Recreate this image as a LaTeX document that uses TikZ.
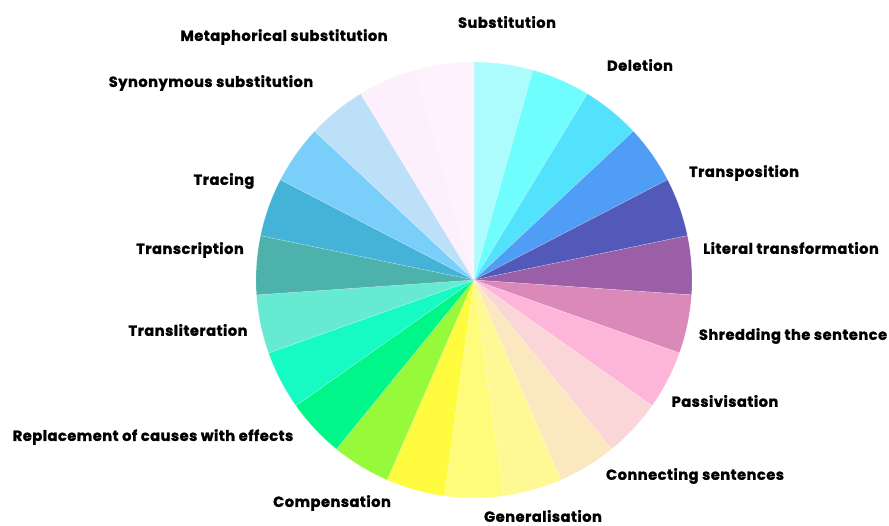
\documentclass[tikz,border=0pt]{standalone}
\usepackage{fontspec}
\newfontfamily\labfont{Poppins}[LetterSpace=3.5, BoldFeatures={FakeBold=1.5}]
\definecolor{s0}{HTML}{ADFCFD}
\definecolor{s1}{HTML}{70FDFE}
\definecolor{s2}{HTML}{52E2FB}
\definecolor{s3}{HTML}{509DF5}
\definecolor{s4}{HTML}{5359B8}
\definecolor{s5}{HTML}{9B5FA7}
\definecolor{s6}{HTML}{DA89B9}
\definecolor{s7}{HTML}{FDB5DA}
\definecolor{s8}{HTML}{FAD6D8}
\definecolor{s9}{HTML}{FCE8BF}
\definecolor{s10}{HTML}{FEF995}
\definecolor{s11}{HTML}{FFFC7C}
\definecolor{s12}{HTML}{FFFC40}
\definecolor{s13}{HTML}{96F93A}
\definecolor{s14}{HTML}{00F688}
\definecolor{s15}{HTML}{16FBC3}
\definecolor{s16}{HTML}{66EBD2}
\definecolor{s17}{HTML}{4DB2AB}
\definecolor{s18}{HTML}{45B2D8}
\definecolor{s19}{HTML}{7ACFFA}
\definecolor{s20}{HTML}{BDE0F9}
\definecolor{s21}{HTML}{FDF0FC}
\definecolor{s22}{HTML}{FEF2FD}
\tikzset{
  lab/.style={font=\labfont\bfseries\fontsize{14.6}{16}\selectfont, text=black, inner sep=0pt, anchor=center},
  sliceedge/.style={draw=white, draw opacity=0.35, line width=0.4pt}
}
\begin{document}
\begin{tikzpicture}[x=1pt,y=1pt]
\useasboundingbox (0,0) rectangle (889,526);
\fill[white] (0,0) rectangle (889,526);
\begin{scope}[shift={(474,246)}]
\foreach \i in {0,...,22}{
  \pgfmathsetmacro{\a}{90-\i*360/23}
  \pgfmathsetmacro{\b}{90-(\i+1)*360/23}
  \fill[s\i, sliceedge] (0,0) -- (\a:218) arc[start angle=\a, end angle=\b, radius=218] -- cycle;
}
\end{scope}
\node[lab] (sub) at (507,504) {Substitution};
\node[lab] (del) at (640,461) {Deletion};
\node[lab] (tra) at (744,353) {Transposition};
\node[lab] (lit) at (791,278) {Literal transformation};
\node[lab] (shr) at (793,190) {Shredding the sentence};
\node[lab] (pas) at (725,125) {Passivisation};
\node[lab] (con) at (695,50) {Connecting sentences};
\node[lab] (gen) at (543,10) {Generalisation};
\node[lab] (com) at (332,23) {Compensation};
\node[lab] (rep) at (153,89) {Replacement of causes with effects};
\node[lab] (tli) at (188,196) {Transliteration};
\node[lab] (tsc) at (190,276) {Transcription};
\node[lab] (trc) at (224,345) {Tracing};
\node[lab] (syn) at (211,443) {Synonymous substitution};
\node[lab] (met) at (284,489) {Metaphorical substitution};
\end{tikzpicture}
\end{document}
